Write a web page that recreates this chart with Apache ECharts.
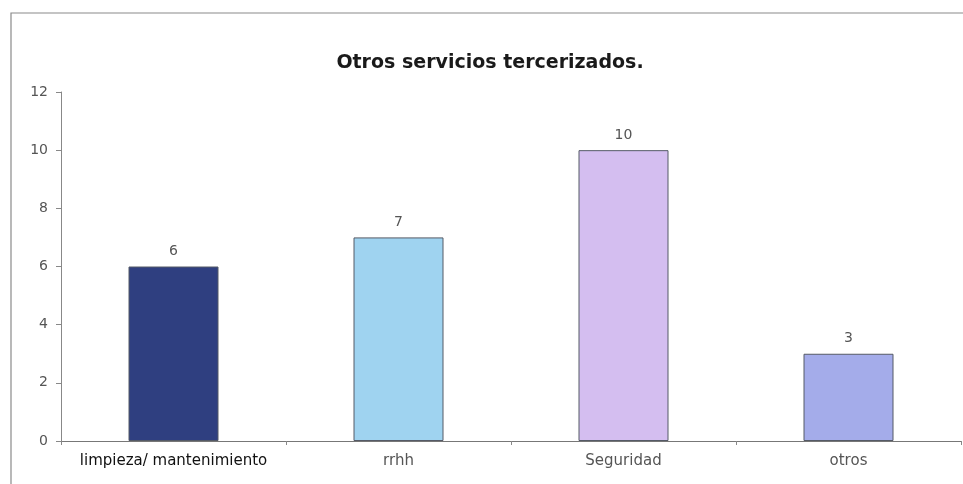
<!DOCTYPE html>
<html>
<head>
<meta charset="utf-8">
<script src="https://cdn.jsdelivr.net/npm/echarts@6/dist/echarts.min.js"></script>
<style>
  html, body { margin: 0; padding: 0; background: #fff; }
  #chart { width: 963px; height: 484px; }
</style>
</head>
<body>
<div id="chart"></div>
<script>
// Services outsourced, count per category
const categories = ['limpieza/ mantenimiento', 'rrhh', 'Seguridad', 'otros'];
const counts = [6, 7, 10, 3];
const barColors = ['#2f3f80', '#9fd3f0', '#d4bef0', '#a4acea'];
const yTicks = { min: 0, max: 12, interval: 2 };

const FONT = '"DejaVu Sans", Verdana, sans-serif';

const chart = echarts.init(document.getElementById('chart'), null, { renderer: 'canvas' });

chart.setOption({
  animation: false,
  backgroundColor: '#ffffff',
  title: {
    text: 'Otros servicios tercerizados.',
    left: 485,
    top: 49,
    textAlign: 'center',
    textStyle: {
      fontFamily: FONT,
      fontSize: 19,
      fontWeight: 'bold',
      color: '#1a1a1a'
    }
  },
  graphic: [{
    type: 'rect',
    shape: { x: 11, y: 13, width: 1200, height: 1000 },
    style: { fill: 'none', stroke: '#8a8a8a', lineWidth: 1.2 },
    silent: true
  }],
  grid: { left: 61, top: 92, width: 900, height: 349, containLabel: false },
  xAxis: {
    type: 'category',
    data: categories,
    axisLine: { lineStyle: { color: '#777', width: 1 } },
    axisTick: { show: true, interval: 0, alignWithLabel: false, length: 4, lineStyle: { color: '#888' } },
    axisLabel: {
      interval: 0,
      hideOverlap: false,
      margin: 13,
      fontFamily: FONT,
      fontSize: 15,
      color: '#555',
      formatter: function (v, i) { return i === 0 ? '{b|' + v + '}' : v; },
      rich: { b: { color: '#111', fontSize: 15, fontFamily: FONT } }
    }
  },
  yAxis: {
    type: 'value',
    min: yTicks.min,
    max: yTicks.max,
    interval: yTicks.interval,
    axisLine: { show: true, lineStyle: { color: '#888', width: 1 } },
    axisTick: { show: true, length: 5, lineStyle: { color: '#888' } },
    splitLine: { show: false },
    axisLabel: {
      margin: 13,
      fontFamily: FONT,
      fontSize: 14,
      color: '#555'
    }
  },
  series: [{
    type: 'bar',
    data: counts.map((v, i) => ({
      value: v,
      itemStyle: { color: barColors[i] }
    })),
    barWidth: '40%',
    itemStyle: { borderColor: '#555a66', borderWidth: 1 },
    label: {
      show: true,
      position: 'top',
      distance: 8,
      fontFamily: FONT,
      fontSize: 14,
      color: '#555'
    }
  }]
});
</script>
</body>
</html>
